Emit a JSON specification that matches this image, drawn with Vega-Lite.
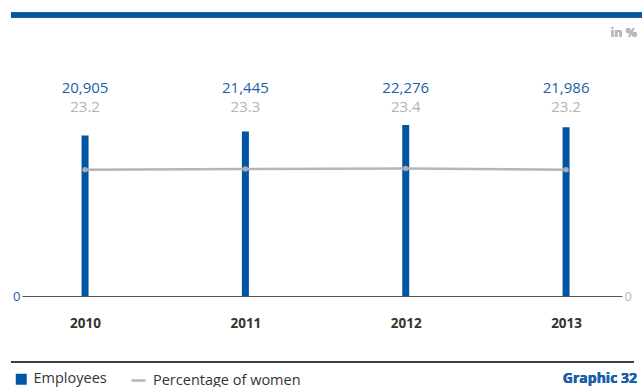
{
  "$schema": "https://vega.github.io/schema/vega-lite/v6.json",
  "width": 600,
  "height": 256,
  "autosize": {"type": "none"},
  "padding": {"left": 22, "top": 40, "right": 20, "bottom": 91},
  "background": "white",
  "config": {"view": {"stroke": null}, "font": "Open Sans"},
  "data": {"values": [
    {"Year": "2010", "Employees": 20905, "Pct": 23.2},
    {"Year": "2011", "Employees": 21445, "Pct": 23.3},
    {"Year": "2012", "Employees": 22276, "Pct": 23.4},
    {"Year": "2013", "Employees": 21986, "Pct": 23.2}
  ]},
  "encoding": {
    "x": {"field": "Year", "type": "ordinal",
      "scale": {"type": "point", "padding": 0.371, "align": 0.53},
      "axis": {"title": null, "ticks": false, "domainColor": "#555555", "domainWidth": 1, "labelAngle": 0,
        "labelFontWeight": "bold", "labelFontSize": 13.5, "labelColor": "#333333", "labelPadding": 20, "labelFont": "Open Sans"}}
  },
  "layer": [
    {
      "layer": [
        {"mark": {"type": "bar", "size": 7, "color": "#0055a5"},
         "encoding": {
           "y": {"field": "Employees", "type": "quantitative", "scale": {"domain": [0, 33360], "nice": false, "zero": true},
             "axis": {"values": [0], "title": null, "domain": false, "ticks": false, "grid": false, "labelColor": "#1a5fa8", "labelFontSize": 13, "labelPadding": 2}},
           "color": {"datum": "Employees", "scale": {"range": ["#0055a5"]},
             "legend": {"title": null, "orient": "none", "legendX": -8, "legendY": 332, "symbolType": "square", "symbolSize": 121, "labelFontSize": 14.5, "labelColor": "#333333", "labelOffset": 5, "symbolOpacity": 1}}
         }},
        {"mark": {"type": "text", "fontSize": 15, "color": "#1a5fa8", "baseline": "middle"},
         "encoding": {"y": {"datum": 27100, "type": "quantitative"}, "text": {"field": "Employees", "type": "quantitative", "format": ","}}},
        {"mark": {"type": "text", "fontSize": 15, "color": "#b3b3b3", "baseline": "middle"},
         "encoding": {"y": {"datum": 24630, "type": "quantitative"}, "text": {"field": "Pct", "type": "quantitative", "format": ".1f"}}}
      ]
    },
    {
      "layer": [
        {"mark": {"type": "line", "strokeWidth": 2.5},
         "encoding": {
           "y": {"field": "Pct", "type": "quantitative", "scale": {"domain": [0, 47], "nice": false},
             "axis": {"orient": "right", "values": [0], "title": null, "domain": false, "ticks": false, "grid": false, "labelColor": "#b8b8b8", "labelFontSize": 13, "labelPadding": 2}},
           "stroke": {"datum": "Percentage of women", "scale": {"range": ["#b4b6b9"]},
             "legend": {"title": null, "orient": "none", "legendX": 108, "legendY": 332, "symbolType": "stroke", "symbolSize": 200, "symbolStrokeWidth": 2.5, "labelFontSize": 14.5, "labelColor": "#333333", "labelOffset": 6}}
         }},
        {"mark": {"type": "point", "filled": true, "size": 30, "color": "#a9abae", "opacity": 1},
         "encoding": {"y": {"field": "Pct", "type": "quantitative"}}}
      ]
    },
    {"mark": {"type": "rule", "color": "#0a56a3", "strokeWidth": 5},
     "encoding": {"x": {"value": -11}, "x2": {"value": 620}, "y": {"value": -25}}},
    {"mark": {"type": "rule", "color": "#333333", "strokeWidth": 1},
     "encoding": {"x": {"value": -11}, "x2": {"value": 612}, "y": {"value": 322}}},
    {"mark": {"type": "text", "text": "in %", "align": "right", "baseline": "middle", "fontSize": 12.5, "fontWeight": "bold", "color": "#b4b7bb"},
     "encoding": {"x": {"value": 615}, "y": {"value": -7}}},
    {"mark": {"type": "text", "text": "Graphic 32", "align": "right", "baseline": "middle", "fontSize": 14, "fontWeight": "bold", "color": "#1a5fa8"},
     "encoding": {"x": {"value": 615}, "y": {"value": 339}}}
  ],
  "resolve": {"scale": {"y": "independent"}}
}
